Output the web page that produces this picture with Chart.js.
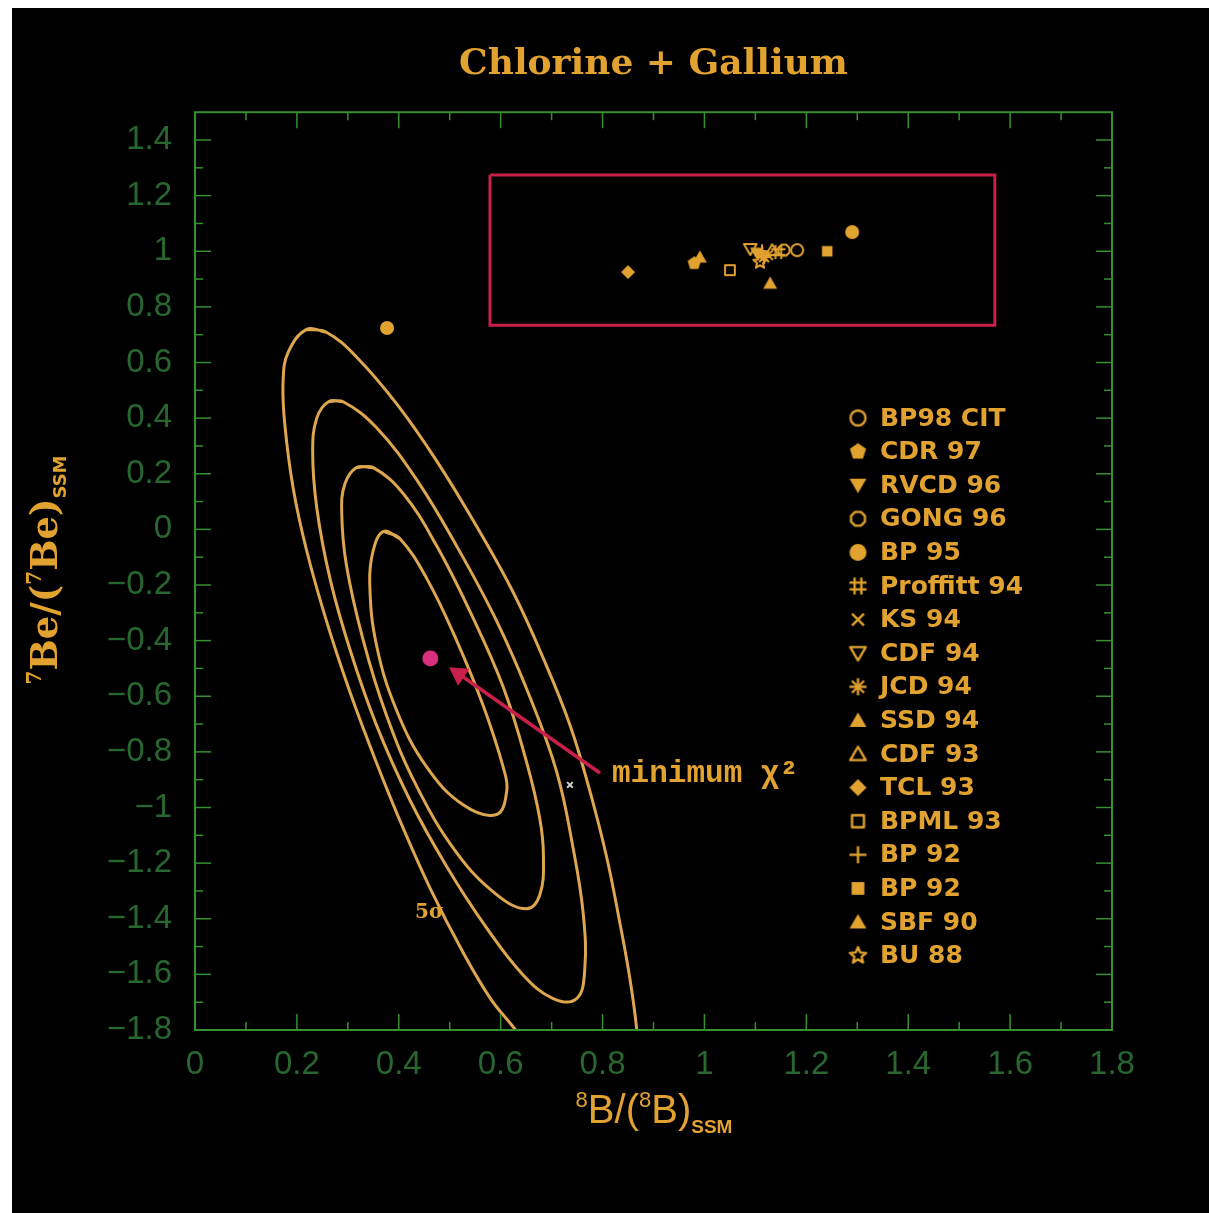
<!DOCTYPE html>
<html>
<head>
<meta charset="utf-8">
<title>Chlorine + Gallium</title>
<script src="https://cdn.jsdelivr.net/npm/chart.js@4.4.1/dist/chart.umd.min.js"></script>
<style>
  html, body { margin: 0; padding: 0; background: #fff; }
  #panel { position: absolute; left: 12px; top: 8px; width: 1197px; height: 1205px; background: #000; }
</style>
</head>
<body>
<div id="panel"><canvas id="chart" width="1197" height="1205"></canvas></div>
<script>
// --- Data ---
const xTicks = [0, 0.2, 0.4, 0.6, 0.8, 1, 1.2, 1.4, 1.6, 1.8];
const xMinor = [0.1, 0.3, 0.5, 0.7, 0.9, 1.1, 1.3, 1.5, 1.7];
const yTicks = [-1.8, -1.6, -1.4, -1.2, -1, -0.8, -0.6, -0.4, -0.2, 0, 0.2, 0.4, 0.6, 0.8, 1, 1.2, 1.4];
const yMinor = [-1.7, -1.5, -1.3, -1.1, -0.9, -0.7, -0.5, -0.3, -0.1, 0.1, 0.3, 0.5, 0.7, 0.9, 1.1, 1.3];

// solar models
const models = ['BP98 CIT', 'CDR 97', 'RVCD 96', 'GONG 96', 'BP 95', 'Proffitt 94', 'KS 94', 'CDF 94',
                'JCD 94', 'SSD 94', 'CDF 93', 'TCL 93', 'BPML 93', 'BP 92', 'BP 92', 'SBF 90', 'BU 88'];
const modelX = [1.182, 0.980, 1.103, 1.156, 1.290, 1.145, 1.125, 1.090, 1.117, 0.991, 1.133, 0.850, 1.050, 1.113, 1.241, 1.129, 1.109];
const modelY = [1.004, 0.957, 0.993, 1.004, 1.069, 0.997, 0.986, 1.008, 0.979, 0.979, 1.004, 0.925, 0.932, 1.000, 1.000, 0.885, 0.961];

// chi^2 contours (inner to outer, 5 sigma outermost)
const e1X = [0.370, 0.402, 0.455, 0.513, 0.566, 0.605, 0.612, 0.592, 0.527, 0.455, 0.396, 0.356, 0.343, 0.350, 0.370, 0.402];
const e1Y = [-0.007, -0.033, -0.177, -0.397, -0.635, -0.855, -0.940, -1.025, -0.991, -0.855, -0.652, -0.414, -0.194, -0.075, -0.007, -0.033];
const e2X = [0.317, 0.350, 0.409, 0.474, 0.540, 0.605, 0.651, 0.677, 0.684, 0.677, 0.651, 0.592, 0.513, 0.435, 0.376, 0.330, 0.297, 0.288, 0.294, 0.317, 0.350];
const e2Y = [0.222, 0.222, 0.128, -0.058, -0.296, -0.567, -0.838, -1.042, -1.178, -1.313, -1.364, -1.313, -1.161, -0.923, -0.669, -0.397, -0.126, 0.061, 0.162, 0.222, 0.222];
const e3X = [0.262, 0.291, 0.356, 0.435, 0.513, 0.592, 0.657, 0.710, 0.742, 0.762, 0.765, 0.749, 0.703, 0.644, 0.572, 0.494, 0.422, 0.356, 0.304, 0.265, 0.239, 0.231, 0.239, 0.262, 0.291];
const e3Y = [0.459, 0.459, 0.366, 0.179, -0.058, -0.329, -0.601, -0.872, -1.144, -1.381, -1.585, -1.687, -1.687, -1.602, -1.432, -1.212, -0.974, -0.703, -0.431, -0.177, 0.078, 0.281, 0.400, 0.459, 0.459];
const e4X = [0.219, 0.258, 0.317, 0.396, 0.474, 0.553, 0.625, 0.684, 0.736, 0.775, 0.808, 0.834, 0.854, 0.867, 0.872, 0.850, 0.805, 0.740, 0.680, 0.628, 0.580, 0.525, 0.463, 0.409, 0.356, 0.304, 0.258, 0.219, 0.193, 0.176, 0.173, 0.183, 0.219, 0.258];
const e4Y = [0.719, 0.709, 0.620, 0.451, 0.247, 0.010, -0.228, -0.465, -0.703, -0.940, -1.178, -1.415, -1.619, -1.797, -1.950, -2.100, -2.170, -2.070, -1.930, -1.797, -1.687, -1.517, -1.296, -1.076, -0.838, -0.584, -0.329, -0.075, 0.145, 0.383, 0.536, 0.637, 0.719, 0.709];

// box round the models, arrow to the minimum, single points
const boxX = [0.579, 1.570, 1.570, 0.579, 0.579];
const boxY = [1.274, 1.274, 0.734, 0.734, 1.274];
const arrowX = [0.795, 0.518];
const arrowY = [-0.876, -0.520];
const minX = 0.462, minY = -0.464;
const otherX = 0.736, otherY = -0.919;
const outlierX = 0.377, outlierY = 0.724;

// --- Styles ---
const ORANGE = '#e2a230';
const CONTOUR = '#dea64e';
const GREEN_TEXT = '#28672f';
const GREEN_FRAME = '#369030';
const CRIMSON = '#c8204a';
const PINK = '#d8307e';
const markerKinds = ['circleOpen', 'pentagon', 'triDown', 'octOpen', 'circle', 'hash', 'cross', 'triDownOpen',
                     'asterisk', 'triUp', 'triUpOpen', 'diamond', 'squareOpen', 'plus', 'square', 'triUp', 'starOpen'];

const toPts = (xs, ys) => xs.map((x, i) => ({ x: x, y: ys[i] }));

function makeMarker(kind, r) {
    const size = Math.ceil(2 * r + 6);
    const c = document.createElement('canvas');
    c.width = size; c.height = size;
    const g = c.getContext('2d');
    g.translate(size / 2, size / 2);
    g.fillStyle = ORANGE;
    g.strokeStyle = ORANGE;
    g.lineWidth = Math.max(2, r * 0.28);
    g.lineJoin = 'round';
    const poly = (n, start, rad) => {
        g.beginPath();
        for (let k = 0; k < n; k++) {
            const a = start + k * 2 * Math.PI / n;
            g.lineTo(rad * Math.cos(a), rad * Math.sin(a));
        }
        g.closePath();
    };
    const line = (x1, y1, x2, y2) => { g.beginPath(); g.moveTo(x1, y1); g.lineTo(x2, y2); g.stroke(); };
    const up = -Math.PI / 2;
    switch (kind) {
        case 'circle': g.beginPath(); g.arc(0, 0, r, 0, 2 * Math.PI); g.fill(); break;
        case 'circleOpen': g.beginPath(); g.arc(0, 0, r - 1, 0, 2 * Math.PI); g.stroke(); break;
        case 'pentagon': poly(5, up, r); g.fill(); break;
        case 'octOpen': poly(8, Math.PI / 8, r - 1); g.stroke(); break;
        case 'triUp': g.translate(0, r * 0.2); poly(3, up, r * 1.15); g.fill(); break;
        case 'triUpOpen': g.translate(0, r * 0.2); poly(3, up, r * 1.05); g.stroke(); break;
        case 'triDown': g.translate(0, -r * 0.2); poly(3, -up, r * 1.15); g.fill(); break;
        case 'triDownOpen': g.translate(0, -r * 0.2); poly(3, -up, r * 1.05); g.stroke(); break;
        case 'diamond': poly(4, 0, r); g.fill(); break;
        case 'square': g.fillRect(-r * 0.75, -r * 0.75, r * 1.5, r * 1.5); break;
        case 'squareOpen': g.strokeRect(-r * 0.7, -r * 0.7, r * 1.4, r * 1.4); break;
        case 'plus': line(-r, 0, r, 0); line(0, -r, 0, r); break;
        case 'cross': line(-r * 0.7, -r * 0.7, r * 0.7, r * 0.7); line(-r * 0.7, r * 0.7, r * 0.7, -r * 0.7); break;
        case 'asterisk':
            for (let k = 0; k < 4; k++) {
                const a = k * Math.PI / 4;
                line(-r * Math.cos(a), -r * Math.sin(a), r * Math.cos(a), r * Math.sin(a));
            }
            break;
        case 'hash':
            line(-r * 0.4, -r, -r * 0.4, r); line(r * 0.4, -r, r * 0.4, r);
            line(-r, -r * 0.4, r, -r * 0.4); line(-r, r * 0.4, r, r * 0.4);
            break;
        case 'starOpen':
            g.beginPath();
            for (let k = 0; k < 10; k++) {
                const a = up + k * Math.PI / 5;
                const rad = k % 2 === 0 ? r : r * 0.45;
                g.lineTo(rad * Math.cos(a), rad * Math.sin(a));
            }
            g.closePath(); g.stroke();
            break;
    }
    return c;
}

const plotIcons = markerKinds.map(k => makeMarker(k, 7));
const legendIcons = markerKinds.map(k => makeMarker(k, 8.5));

const fmt = v => (v < -1e-9 ? '\u2212' : '') + (Math.round(Math.abs(v) * 10) / 10).toString();

// --- Datasets ---
const datasets = [];
models.forEach((name, i) => {
    datasets.push({
        label: name,
        data: [{ x: modelX[i], y: modelY[i] }],
        pointStyle: plotIcons[i],
        pointRadius: 7,
        legendIcon: legendIcons[i]
    });
});
datasets.push({ label: 'outlier', data: [{ x: outlierX, y: outlierY }], pointStyle: 'circle', pointRadius: 7,
    backgroundColor: ORANGE, borderWidth: 0 });
datasets.push({ label: 'min', data: [{ x: minX, y: minY }], pointStyle: 'circle', pointRadius: 8,
    backgroundColor: PINK, borderWidth: 0 });
datasets.push({ label: 'other', data: [{ x: otherX, y: otherY }], pointStyle: 'crossRot', pointRadius: 4,
    borderColor: '#cfcfcf', borderWidth: 2 });
datasets.push({ label: 'arrow', data: toPts(arrowX, arrowY), showLine: true, borderColor: CRIMSON, borderWidth: 3.5,
    pointRadius: [0, 11], pointStyle: 'triangle', pointRotation: -56, pointBackgroundColor: CRIMSON,
    pointBorderColor: CRIMSON, pointBorderWidth: 1, tension: 0 });
[[e1X, e1Y], [e2X, e2Y], [e3X, e3Y], [e4X, e4Y]].forEach((e, i) => {
    datasets.push({ label: 'contour ' + (i + 1), data: toPts(e[0], e[1]), showLine: true, borderColor: CONTOUR,
        borderWidth: 3, pointRadius: 0, tension: 0.4, fill: false });
});
datasets.push({ label: 'box', data: toPts(boxX, boxY), showLine: true, borderColor: CRIMSON, borderWidth: 3,
    pointRadius: 0, tension: 0 });

// --- Plugins: frame with inward ticks, axis titles, labels, legend ---
function drawRuns(ctx, runs, cx, baseY) {
    let total = 0;
    runs.forEach(r => { ctx.font = r.font; r.w = ctx.measureText(r.t).width; total += r.w; });
    let x = cx - total / 2;
    runs.forEach(r => { ctx.font = r.font; ctx.fillText(r.t, x, baseY + (r.dy || 0)); x += r.w; });
}

const framePlugin = {
    id: 'frame',
    afterDatasetsDraw(chart) {
        const ctx = chart.ctx;
        const a = chart.chartArea;
        const xs = chart.scales.x, ys = chart.scales.y;
        ctx.save();
        ctx.strokeStyle = GREEN_FRAME;
        ctx.lineWidth = 2;
        ctx.strokeRect(a.left, a.top, a.right - a.left, a.bottom - a.top);
        ctx.lineWidth = 1.5;
        const tick = (x1, y1, x2, y2) => { ctx.beginPath(); ctx.moveTo(x1, y1); ctx.lineTo(x2, y2); ctx.stroke(); };
        xTicks.forEach(v => { const p = xs.getPixelForValue(v); tick(p, a.bottom, p, a.bottom - 16); tick(p, a.top, p, a.top + 16); });
        xMinor.forEach(v => { const p = xs.getPixelForValue(v); tick(p, a.bottom, p, a.bottom - 8); tick(p, a.top, p, a.top + 8); });
        yTicks.forEach(v => { const p = ys.getPixelForValue(v); tick(a.left, p, a.left + 16, p); tick(a.right, p, a.right - 16, p); });
        yMinor.forEach(v => { const p = ys.getPixelForValue(v); tick(a.left, p, a.left + 8, p); tick(a.right, p, a.right - 8, p); });
        ctx.restore();
    },
    afterDraw(chart) {
        const ctx = chart.ctx;
        const xs = chart.scales.x, ys = chart.scales.y;
        ctx.save();
        ctx.fillStyle = ORANGE;
        ctx.textBaseline = 'alphabetic';

        // x axis title
        drawRuns(ctx, [
            { t: '8', font: '22px "Liberation Sans"', dy: -16 },
            { t: 'B/(', font: '40px "Liberation Sans"' },
            { t: '8', font: '22px "Liberation Sans"', dy: -16 },
            { t: 'B)', font: '40px "Liberation Sans"' },
            { t: 'SSM', font: 'bold 19px "Liberation Sans"', dy: 10 }
        ], 642, 1115);

        // y axis title
        ctx.save();
        ctx.translate(45, 562);
        ctx.rotate(-Math.PI / 2);
        drawRuns(ctx, [
            { t: '7', font: 'bold 20px "DejaVu Serif"', dy: -16 },
            { t: 'Be/(', font: 'bold 37px "DejaVu Serif"' },
            { t: '7', font: 'bold 20px "DejaVu Serif"', dy: -16 },
            { t: 'Be)', font: 'bold 37px "DejaVu Serif"' },
            { t: 'SSM', font: 'bold 18px "DejaVu Sans"', dy: 9 }
        ], 0, 0);
        ctx.restore();

        // annotations
        ctx.font = 'bold 31px "Liberation Mono"';
        ctx.textAlign = 'left';
        ctx.fillText('minimum \u03c7\u00b2', xs.getPixelForValue(arrowX[0]) + 12, ys.getPixelForValue(arrowY[0]) + 9);
        ctx.font = 'bold 20px "DejaVu Serif"';
        ctx.fillText('5\u03c3', 403, 910);

        // legend
        ctx.font = 'bold 25px "DejaVu Sans"';
        ctx.textBaseline = 'middle';
        chart.data.datasets.forEach((ds, i) => {
            if (!ds.legendIcon) return;
            const y = 410 + i * 33.6;
            const icon = ds.legendIcon;
            ctx.drawImage(icon, 846 - icon.width / 2, y - icon.height / 2);
            ctx.fillText(ds.label, 868, y + 1);
        });
        ctx.restore();
    }
};

const tickFont = { family: '"Liberation Sans", Arial, sans-serif', size: 33 };

new Chart(document.getElementById('chart'), {
    type: 'scatter',
    data: { datasets: datasets },
    options: {
        responsive: false,
        animation: false,
        devicePixelRatio: 1,
        events: [],
        layout: { padding: { top: 0, right: 97, bottom: 0, left: 0 } },
        elements: { line: { capBezierPoints: false } },
        scales: {
            x: {
                type: 'linear', min: 0, max: 1.8,
                afterBuildTicks: s => { s.ticks = xTicks.map(v => ({ value: v })); },
                afterFit: s => { s.height = 183; },
                ticks: { color: GREEN_TEXT, font: tickFont, padding: 15, maxRotation: 0, autoSkip: false, callback: fmt },
                grid: { display: false, drawTicks: false },
                border: { display: false }
            },
            y: {
                type: 'linear', min: -1.8, max: 1.5,
                afterBuildTicks: s => { s.ticks = yTicks.map(v => ({ value: v })); },
                afterFit: s => { s.width = 183; },
                ticks: { color: GREEN_TEXT, font: tickFont, padding: 23, autoSkip: false, callback: fmt },
                grid: { display: false, drawTicks: false },
                border: { display: false }
            }
        },
        plugins: {
            legend: { display: false },
            tooltip: { enabled: false },
            title: {
                display: true,
                fullSize: false,
                text: 'Chlorine + Gallium',
                color: ORANGE,
                font: { family: '"DejaVu Serif", serif', weight: 'bold', size: 36 },
                padding: { top: 35, bottom: 26 }
            }
        }
    },
    plugins: [framePlugin]
});
</script>
</body>
</html>
